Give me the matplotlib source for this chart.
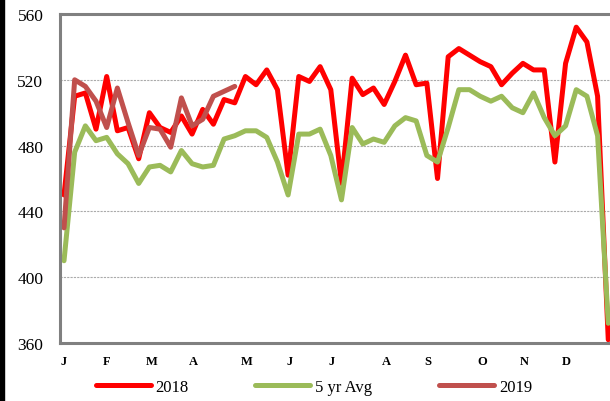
import numpy as np
import matplotlib
matplotlib.use('Agg')
import matplotlib.pyplot as plt
from matplotlib.patches import Rectangle

plt.rcParams['font.family'] = ['Liberation Serif', 'DejaVu Serif']

# weekly values
y2018 = [450, 510, 512, 490, 522, 489, 491, 472, 500, 491,
         488, 498, 487, 502, 493, 508, 506, 522, 517, 526,
         514, 462, 522, 519, 528, 514, 457, 521, 511, 515,
         505, 519, 535, 517, 518, 460, 534, 539, 535, 531,
         528, 517, 524, 530, 526, 526, 470, 530, 552, 543,
         510, 362]
avg5 = [410, 476, 492, 483, 485, 475, 469, 457, 467, 468,
        464, 477, 469, 467, 468, 484, 486, 489, 489, 485,
        470, 450, 487, 487, 490, 474, 447, 491, 481, 484,
        482, 492, 497, 495, 474, 470, 491, 514, 514, 510,
        507, 510, 503, 500, 512, 497, 486, 492, 514, 510,
        486, 372]
y2019 = [430, 520, 516, 507, 491, 515, 494, 474, 491, 490,
         479, 509, 492, 496, 510, 513, 516]

month_labels = ['J', 'F', 'M', 'A', 'M', 'J', 'J', 'A', 'S', 'O', 'N', 'D']
month_weeks = [0, 4, 8.2, 12.1, 17.1, 21.1, 25.1, 30.2, 34.1, 39.2, 43.1, 47.1]

fig = plt.figure(figsize=(6.1, 4.02), dpi=100)
ax = fig.add_axes([60 / 610, 58 / 402, 560 / 610, 329 / 402])

lw = 3.6
ax.plot(np.arange(len(y2018)), y2018, color='#FF0000', lw=lw, solid_capstyle='round', label='2018')
ax.plot(np.arange(len(avg5)), avg5, color='#9BBB59', lw=lw, solid_capstyle='round', label='5 yr Avg')
ax.plot(np.arange(len(y2019)), y2019, color='#C0504D', lw=lw, solid_capstyle='round', label='2019')

ax.set_ylim(360, 560)
ax.set_yticks(range(360, 561, 40))
ax.set_xlim(-0.375, 52.1)
ax.set_xticks(month_weeks)
ax.set_xticklabels(month_labels, fontsize=9, fontweight='bold')
ax.tick_params(axis='y', length=0, labelsize=12.5, pad=12)
ax.tick_params(axis='x', length=0, pad=9)

for v in [400, 440, 480, 520]:
    ax.axhline(v, color='#ABABAB', lw=0.8, ls=(0, (2, 1)), zorder=0)

for s in ['left', 'top', 'bottom']:
    ax.spines[s].set_color('#808080')
    ax.spines[s].set_linewidth(2.2)
ax.spines['right'].set_visible(False)

fig.legend(loc='center', bbox_to_anchor=(314 / 610, 14 / 402), ncol=3, frameon=False,
           fontsize=12, handlelength=3.3, columnspacing=4.0, handletextpad=0.3)

fig.add_artist(Rectangle((0, 0), 4 / 610, 1, color='black', transform=fig.transFigure))

fig.savefig('out.png', dpi=100)
